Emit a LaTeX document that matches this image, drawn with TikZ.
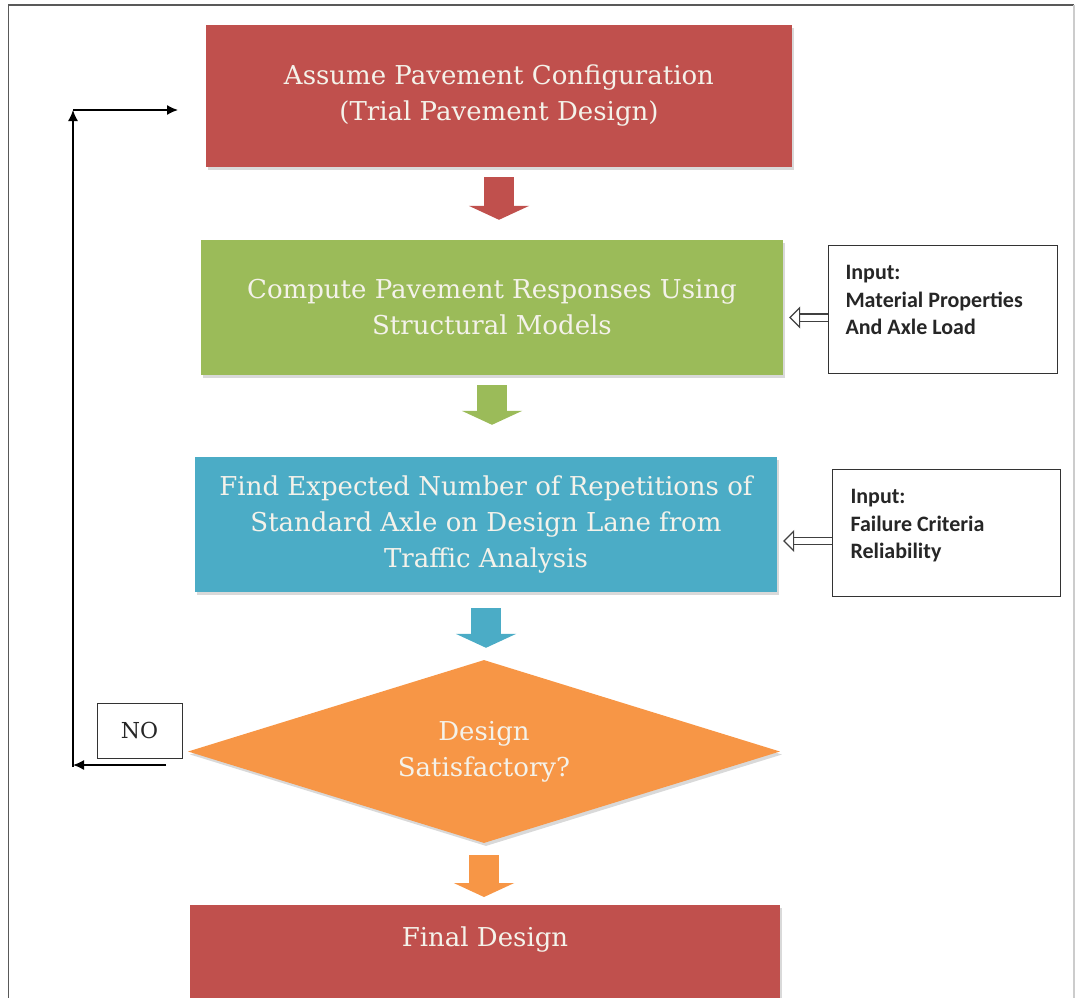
\documentclass[tikz,border=0pt]{standalone}
\usepackage{fontspec}
\setmainfont{DejaVu Serif}
\newfontfamily\inputfont{Carlito}
\usetikzlibrary{shapes.geometric,shadows,arrows.meta,calc}
\definecolor{boxred}{HTML}{C0504D}
\definecolor{boxgreen}{HTML}{9BBB59}
\definecolor{boxblue}{HTML}{4BACC6}
\definecolor{boxorange}{HTML}{F79646}
\definecolor{boxtext}{RGB}{244,242,234}
\tikzset{stage/.style= {fill=#1, text=boxtext, align=center, inner sep=0pt, font=\fontsize{26}{36}\selectfont, drop shadow={shadow xshift=2pt, shadow yshift=-3pt, opacity=0.3}}}
\tikzset{decision/.style= {diamond, aspect=3.2, fill=boxorange, text=boxtext, align=center, inner sep=0pt, minimum width=592pt, minimum height=183pt, font=\fontsize{26}{36}\selectfont, drop shadow={shadow xshift=2pt, shadow yshift=-3pt, opacity=0.3}}}
\tikzset{inbox/.style= {draw=black!80, line width=1pt, fill=white, inner sep=0pt, anchor=north west, text=black!85, font=\inputfont\bfseries\fontsize{22}{27.5}\selectfont}}
\tikzset{nobox/.style= {draw=black!80, line width=1pt, fill=white, inner sep=0pt, minimum width=85pt, minimum height=55pt, text=black!85, font=\fontsize{22}{24}\selectfont}}
\tikzset{flowarrow/.style= {draw=#1, line width=30pt, -{Triangle[length=14pt,width=60pt]}}}
\tikzset{feedarrow/.style= {draw=black!75, line width=1.2pt, double=white, double distance=6pt, -{Triangle[open, line width=1.2pt, length=11pt, width=22pt]}, shorten >=6pt}}
\tikzset{backline/.style= {black, line width=1.5pt}}

\begin{document}
\begin{tikzpicture}[x=1pt,y=-1pt]
        \useasboundingbox (0,0) rectangle (1076,998);
        \draw[gray!70!black, line width=1.5pt](8.5,998)--(8.5,5)--(1074,5);
        \draw[gray!40, line width=1.5pt](1074,5)--(1074,998);

        \node[stage=boxred, minimum width=586pt, minimum height=142pt](assume)at(499,96){Assume Pavement Configuration\\(Trial Pavement Design)};
        \node[stage=boxgreen, minimum width=582pt, minimum height=135pt](compute)at(492,307.5){Compute Pavement Responses Using\\Structural Models};
        \node[stage=boxblue, minimum width=582pt, minimum height=135pt](traffic)at(486,524.5){Find Expected Number of Repetitions of\\Standard Axle on Design Lane from\\Traffic Analysis};
        \node[decision](check)at(484,751.5){Design\\Satisfactory?};
        \node[stage=boxred, minimum width=590pt, minimum height=93pt, text height=41pt, text depth=52pt, anchor=north](final)at(485,905){Final Design};

        \node[inbox, minimum width=229pt, minimum height=128pt](inA)at(828,245){\parbox[t][88pt][t]{195pt}{Input:\\Material Properties\\And Axle Load}};
        \node[inbox, minimum width=228pt, minimum height=127pt](inB)at(832,469){\parbox[t][87pt][t]{192pt}{Input:\\Failure Criteria\\Reliability}};
        \node[nobox](no)at(139.5,730.5){NO};

        \draw[flowarrow=boxred, shorten <=10pt, shorten >=20pt](assume.south)--(assume.south |- compute.north);
        \draw[flowarrow=boxgreen, shorten <=10pt, shorten >=32pt](compute.south)--(compute.south |- traffic.north);
        \draw[flowarrow=boxblue, shorten <=16pt, shorten >=12pt](traffic.south)--(traffic.south |- check.north);
        \draw[flowarrow=boxorange, shorten <=12pt, shorten >=8pt](check.south)--(check.south |- final.north);

        \coordinate(inAport)at($(inA.west)+(0,8)$);
        \coordinate(inBport)at($(inB.west)+(0,8)$);
        \draw[feedarrow](inAport)--(inAport -| compute.east);
        \draw[feedarrow](inBport)--(inBport -| traffic.east);

        \coordinate(loopstart)at(166,765);
        \coordinate(loopbot)at(73,765);
        \coordinate(looptop)at(73,110);
        \coordinate(loopend)at(178,110);
        \draw[backline, -{Latex[length=11pt,width=10pt]}](loopstart)--(loopbot);
        \draw[backline, -{Latex[length=11pt,width=10pt]}]([yshift=-2pt]loopbot)--(looptop);
        \draw[backline, -{Latex[length=11pt,width=10pt]}](looptop)--(loopend);
    \end{tikzpicture}
\end{document}
